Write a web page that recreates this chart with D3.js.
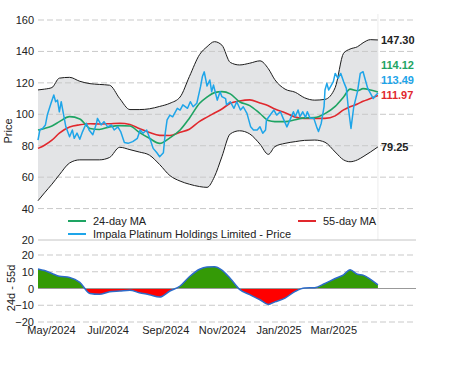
<!DOCTYPE html>
<html>
<head>
<meta charset="utf-8">
<script src="https://cdn.jsdelivr.net/npm/d3@7"></script>
<style>
  body { margin: 0; background: #fff; }
  svg { display: block; font-family: "Liberation Sans", Arial, sans-serif; }
</style>
</head>
<body>
<div id="chart"></div>
<script>
// sample dates for the bands and moving averages
const maDates = ["2024-04-17","2024-04-24","2024-05-02","2024-05-10","2024-05-21","2024-06-01","2024-06-12","2024-06-22","2024-07-03","2024-07-14","2024-07-25","2024-08-04","2024-08-15","2024-08-26","2024-09-06","2024-09-17","2024-09-27","2024-10-08","2024-10-16","2024-10-24","2024-11-01","2024-11-10","2024-11-20","2024-12-01","2024-12-12","2024-12-21","2024-12-28","2025-01-08","2025-01-19","2025-01-29","2025-02-09","2025-02-20","2025-03-03","2025-03-12","2025-03-19","2025-03-27","2025-04-02","2025-04-10","2025-04-18"];
const upperBand = [115.5,116,117,123,123.5,121,119.5,119,118.5,110,103,103,103.5,105,107,111,124,138,143,146.2,144,133,131.4,132.5,134,129,122,116,114,110.5,109,109.5,117,138.8,141.5,143,145.5,147.5,147.3];
const lowerBand = [45,50,55.5,61.5,69,71,71,71,72.5,79,77.5,76,74,68,61,57.5,55.5,54,53.5,60.3,73,87.5,89.5,87.5,81,74.5,79.4,81.5,82.6,83.4,83.6,82.2,76,71,69.8,71,73,76,79.25];
const ma24 = [90,91,92.5,95.3,98.5,97,91,90.3,92,92.8,92.5,88.5,84.7,81.5,85,90,97.5,107,111,113.8,114.4,113,108,105.5,100.5,96,95.3,95.3,96.5,97.7,97.9,100.4,105,111,116,115,116.3,115.5,114.12];
const ma55 = [78.3,80.3,83.5,88,91.9,93.3,94,93.8,94,94.3,93.5,91,88.4,86.6,86.5,88.5,90.5,95.5,98.2,100.8,103.4,107,108.5,109.2,107.2,105.5,103.3,101,98.2,97.4,97.4,97.4,99,102.8,104.8,106.5,108.3,110,111.97];

// price
const priceDates = ["2024-04-17","2024-04-19","2024-04-22","2024-04-25","2024-04-27","2024-05-01","2024-05-04","2024-05-06","2024-05-08","2024-05-10","2024-05-12","2024-05-14","2024-05-17","2024-05-21","2024-05-24","2024-05-26","2024-05-29","2024-06-01","2024-06-04","2024-06-08","2024-06-11","2024-06-15","2024-06-19","2024-06-20","2024-06-24","2024-06-27","2024-07-01","2024-07-05","2024-07-08","2024-07-12","2024-07-15","2024-07-19","2024-07-23","2024-07-28","2024-08-02","2024-08-05","2024-08-08","2024-08-12","2024-08-16","2024-08-19","2024-08-23","2024-08-26","2024-08-30","2024-09-01","2024-09-03","2024-09-06","2024-09-09","2024-09-14","2024-09-17","2024-09-20","2024-09-25","2024-09-28","2024-10-01","2024-10-05","2024-10-09","2024-10-11","2024-10-13","2024-10-16","2024-10-19","2024-10-21","2024-10-23","2024-10-27","2024-10-30","2024-11-01","2024-11-05","2024-11-06","2024-11-10","2024-11-14","2024-11-17","2024-11-21","2024-11-24","2024-11-28","2024-12-02","2024-12-05","2024-12-09","2024-12-12","2024-12-15","2024-12-18","2024-12-19","2024-12-23","2024-12-27","2024-12-30","2025-01-03","2025-01-06","2025-01-10","2025-01-14","2025-01-17","2025-01-19","2025-01-22","2025-01-24","2025-01-27","2025-01-30","2025-02-01","2025-02-04","2025-02-08","2025-02-11","2025-02-13","2025-02-16","2025-02-19","2025-02-20","2025-02-22","2025-02-24","2025-02-26","2025-03-01","2025-03-03","2025-03-06","2025-03-09","2025-03-12","2025-03-15","2025-03-17","2025-03-20","2025-03-23","2025-03-27","2025-03-30","2025-04-02","2025-04-04","2025-04-07","2025-04-10","2025-04-13","2025-04-15","2025-04-18"];
const priceValues = [83.6,90,91,93.2,99.5,107,112.3,108,109,101.6,108,101.6,92,85.7,90,84.7,88,84.1,89,94.3,90,87,94.3,97.4,93.2,95.3,92,93.2,90,92,89,82,81.5,82.6,84.7,90,87.9,90,83.6,78.3,75.5,73,75.5,88,96.4,99.5,98.4,103.8,102.7,106,103.8,108,104.8,107,117.6,124,127,118,121.8,114.4,118.6,109,114.4,111.2,110,106,108,103.8,108,102.7,104.8,100.6,92,90,90,92,87.9,90,96.4,99.5,102.7,99.5,101.6,97.4,92,97.4,101.6,98.4,102.7,98.4,101.6,98,101.6,97.4,97.4,92,89,94.3,104.8,115.5,119.7,115.5,117.6,120.8,126,122.8,126,120.8,116.5,104.8,91,104.8,114.4,126,127.1,122.8,116.5,113.3,110,111.6,113.49];

const priceTicks = [40, 60, 80, 100, 120, 140, 160];
const diffTicks = [-20, -10, 10, 20];
const monthTicks = ["2024-05-01","2024-07-01","2024-09-01","2024-11-01","2025-01-01","2025-03-01"];

const colors = { ma24: "#1ea463", ma55: "#e1282d", price: "#1ea5e9", band: "#1c1c1c" };

const parse = d3.timeParse("%Y-%m-%d");
const W = 452, H = 366;
const left = 38, right = 416;

const svg = d3.select("#chart").append("svg")
    .attr("width", W)
    .attr("height", H);

const x = d3.scaleTime()
    .domain([parse("2024-04-17"), parse("2025-05-29")])
    .range([left, right]);
const y = d3.scaleLinear().domain([20, 160]).range([240, 20]);
const y2 = d3.scaleLinear().domain([-20, 20]).range([322, 255]);

const ma = maDates.map((d, i) => ({
    date: parse(d), upper: upperBand[i], lower: lowerBand[i],
    ma24: ma24[i], ma55: ma55[i], diff: ma24[i] - ma55[i]
}));
const price = priceDates.map((d, i) => ({ date: parse(d), v: priceValues[i] }));
const lastDate = ma[ma.length - 1].date;

// faint marker of last date
svg.append("line")
    .attr("x1", x(lastDate)).attr("x2", x(lastDate))
    .attr("y1", 14).attr("y2", 240)
    .attr("stroke", "#ececec");

// band fill
svg.append("path")
    .datum(ma)
    .attr("fill", "#e3e4e6")
    .attr("d", d3.area().curve(d3.curveMonotoneX)
        .x(d => x(d.date)).y0(d => y(d.lower)).y1(d => y(d.upper)));

// grid upper
svg.selectAll(".grid").data(priceTicks).join("line")
    .attr("class", "grid")
    .attr("x1", left).attr("x2", right)
    .attr("y1", d => y(d)).attr("y2", d => y(d))
    .attr("stroke", "#c9c9c9")
    .attr("stroke-dasharray", "6,3");

svg.append("line")
    .attr("x1", left).attr("x2", right)
    .attr("y1", y(20)).attr("y2", y(20))
    .attr("stroke", "#c4c4c4");

// band outlines
["upper", "lower"].forEach(k => {
    svg.append("path")
        .datum(ma)
        .attr("fill", "none")
        .attr("stroke", colors.band)
        .attr("stroke-width", 1)
        .attr("d", d3.line().curve(d3.curveMonotoneX).x(d => x(d.date)).y(d => y(d[k])));
});

["ma55", "ma24"].forEach(k => {
    svg.append("path")
        .datum(ma)
        .attr("fill", "none")
        .attr("stroke", colors[k])
        .attr("stroke-width", 1.6)
        .attr("d", d3.line().curve(d3.curveMonotoneX).x(d => x(d.date)).y(d => y(d[k])));
});

svg.append("path")
    .datum(price)
    .attr("fill", "none")
    .attr("stroke", colors.price)
    .attr("stroke-width", 1.5)
    .attr("stroke-linejoin", "round")
    .attr("d", d3.line().x(d => x(d.date)).y(d => y(d.v)));

// y axis upper
const yAxis = svg.append("g")
    .attr("transform", "translate(" + left + ",0)")
    .call(d3.axisLeft(y).tickValues([20].concat(priceTicks)).tickSize(0).tickPadding(4));
yAxis.select(".domain").remove();
yAxis.selectAll("text").style("font-size", "11px").attr("fill", "#222");

svg.append("text")
    .attr("transform", "translate(8,131) rotate(-90)")
    .attr("text-anchor", "middle")
    .attr("dy", "0.35em")
    .style("font-size", "11px")
    .attr("fill", "#222")
    .text("Price");

// end labels
const endItems = [
    { v: ma24[ma24.length - 1], c: colors.ma24 },
    { v: priceValues[priceValues.length - 1], c: colors.price },
    { v: ma55[ma55.length - 1], c: colors.ma55 }
].map(d => Object.assign(d, { py: y(d.v) }))
 .sort((a, b) => b.py - a.py);
for (let i = 1; i < endItems.length; i++) {
    if (endItems[i].py > endItems[i - 1].py - 15) endItems[i].py = endItems[i - 1].py - 15;
}
endItems.push({ v: upperBand[upperBand.length - 1], c: "#222", py: y(upperBand[upperBand.length - 1]) });
endItems.push({ v: lowerBand[lowerBand.length - 1], c: "#222", py: y(lowerBand[lowerBand.length - 1]) });

svg.selectAll(".endlabel").data(endItems).join("text")
    .attr("class", "endlabel")
    .attr("x", x(lastDate) + 3)
    .attr("y", d => d.py)
    .attr("dy", "0.35em")
    .style("font-size", "11px")
    .style("font-weight", "bold")
    .attr("fill", d => d.c)
    .text(d => d.v.toFixed(2));

// legend
const legend = [
    { label: "24-day MA", c: colors.ma24, lx: 68, ly: 221 },
    { label: "55-day MA", c: colors.ma55, lx: 298, ly: 221 },
    { label: "Impala Platinum Holdings Limited - Price", c: colors.price, lx: 68, ly: 234 }
];
const lg = svg.selectAll(".legend").data(legend).join("g").attr("class", "legend");
lg.append("line")
    .attr("x1", d => d.lx).attr("x2", d => d.lx + 18)
    .attr("y1", d => d.ly).attr("y2", d => d.ly)
    .attr("stroke", d => d.c).attr("stroke-width", 2);
lg.append("text")
    .attr("x", d => d.lx + 25).attr("y", d => d.ly)
    .attr("dy", "0.35em")
    .style("font-size", "11px")
    .attr("fill", "#222")
    .text(d => d.label);

// lower panel
svg.selectAll(".grid2").data(diffTicks).join("line")
    .attr("class", "grid2")
    .attr("x1", left).attr("x2", right)
    .attr("y1", d => y2(d)).attr("y2", d => y2(d))
    .attr("stroke", "#c9c9c9")
    .attr("stroke-dasharray", "6,3");

const defs = svg.append("defs");
defs.append("clipPath").attr("id", "pos").append("rect")
    .attr("x", 0).attr("y", 0).attr("width", W).attr("height", y2(0));
defs.append("clipPath").attr("id", "neg").append("rect")
    .attr("x", 0).attr("y", y2(0)).attr("width", W).attr("height", H - y2(0));

const diffArea = d3.area().curve(d3.curveMonotoneX)
    .x(d => x(d.date)).y0(y2(0)).y1(d => y2(d.diff));

svg.append("path").datum(ma)
    .attr("clip-path", "url(#pos)")
    .attr("fill", "#349a06")
    .attr("d", diffArea);
svg.append("path").datum(ma)
    .attr("clip-path", "url(#neg)")
    .attr("fill", "#ff0000")
    .attr("d", diffArea);

svg.append("line")
    .attr("x1", left).attr("x2", right)
    .attr("y1", y2(0)).attr("y2", y2(0))
    .attr("stroke", "#999");

svg.append("path").datum(ma)
    .attr("fill", "none")
    .attr("stroke", "#2d6bc9")
    .attr("stroke-width", 1.5)
    .attr("d", d3.line().curve(d3.curveMonotoneX).x(d => x(d.date)).y(d => y2(d.diff)));

const y2Axis = svg.append("g")
    .attr("transform", "translate(" + left + ",0)")
    .call(d3.axisLeft(y2).tickValues([-20, -10, 0, 10, 20]).tickSize(0).tickPadding(4));
y2Axis.select(".domain").remove();
y2Axis.selectAll("text").style("font-size", "11px").attr("fill", "#222");

svg.append("text")
    .attr("transform", "translate(11,288) rotate(-90)")
    .attr("text-anchor", "middle")
    .attr("dy", "0.35em")
    .style("font-size", "11px")
    .attr("fill", "#222")
    .text("24d - 55d");

// x axis
const xAxis = svg.append("g")
    .attr("transform", "translate(0," + y2(-20) + ")")
    .call(d3.axisBottom(x)
        .tickValues(monthTicks.map(parse))
        .tickFormat(d3.timeFormat("%b/%Y"))
        .tickSize(0).tickPadding(4));
xAxis.select(".domain").remove();
xAxis.selectAll("text").style("font-size", "11px").attr("fill", "#222");
</script>
</body>
</html>
